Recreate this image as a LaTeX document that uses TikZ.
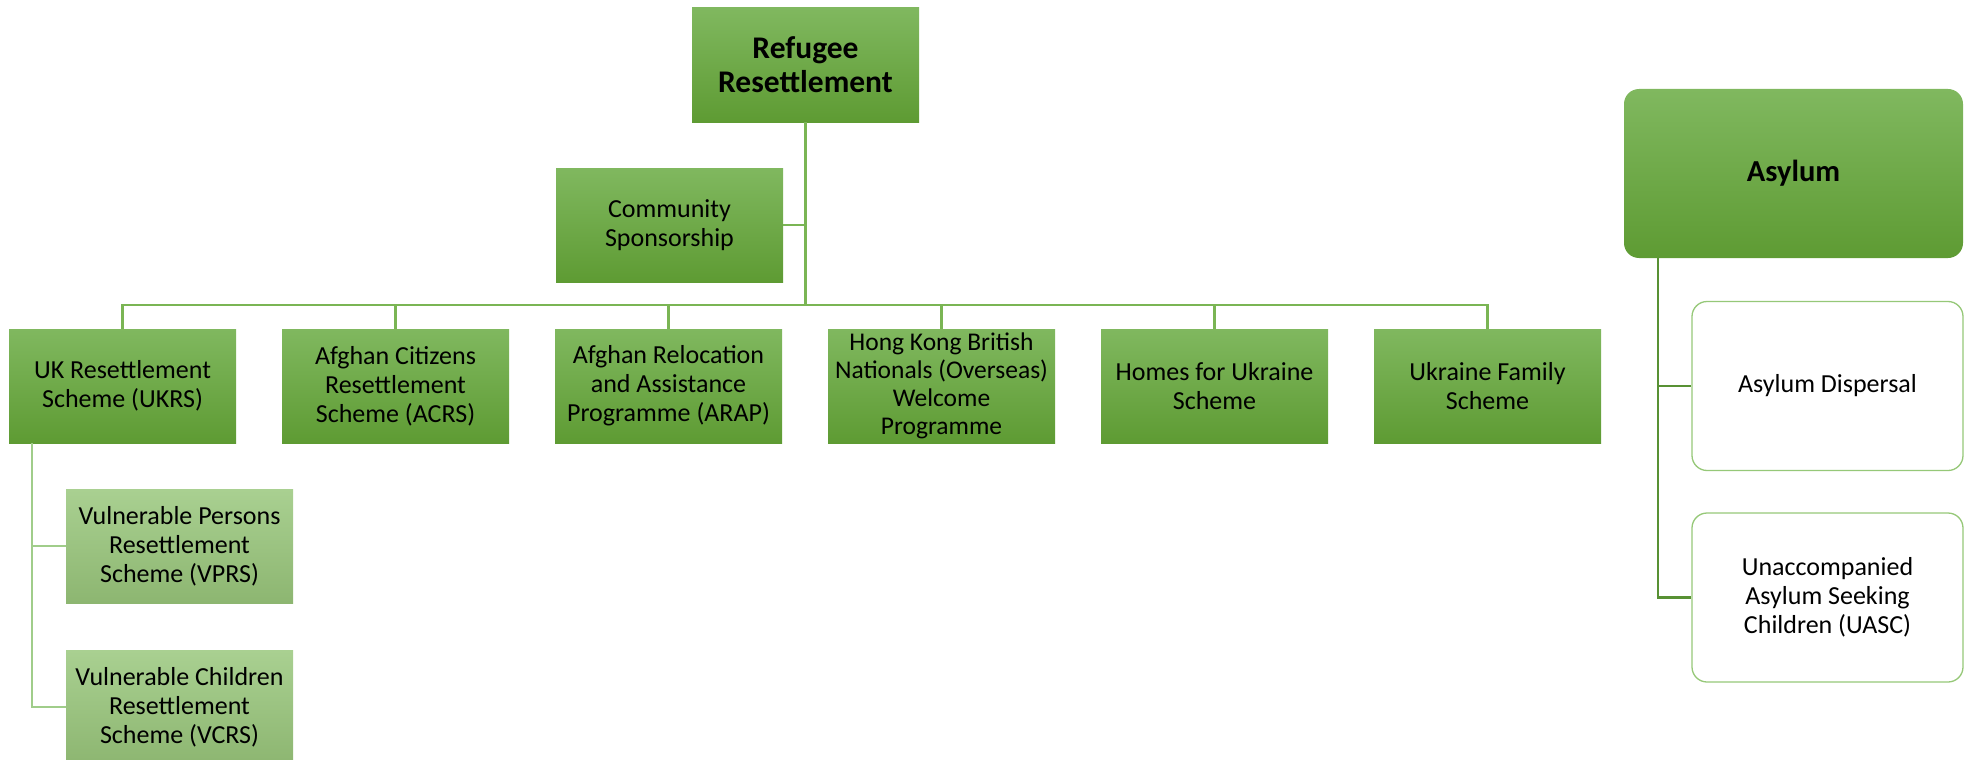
\documentclass[tikz,border=0pt]{standalone}
\usepackage{fontspec}
\setmainfont{Carlito}
\definecolor{gtop}{RGB}{128,184,95}
\definecolor{gbot}{RGB}{94,155,51}
\definecolor{ltop}{RGB}{169,208,145}
\definecolor{lbot}{RGB}{141,182,113}
\definecolor{busc}{RGB}{122,181,84}
\definecolor{darkc}{RGB}{88,145,52}
\definecolor{lightc}{RGB}{160,205,138}
\definecolor{bordc}{RGB}{150,200,120}
\tikzset{
  gbox/.style={rectangle, minimum width=227pt, minimum height=114pt, inner sep=0pt,
    top color=gtop, bottom color=gbot, draw=none, align=center,
    font=\fontsize{26}{29}\selectfont},
  lbox/.style={gbox, top color=ltop, bottom color=lbot},
  titlebox/.style={gbox, font=\fontsize{31.5}{34}\selectfont\bfseries},
  abox/.style={rectangle, rounded corners=15pt, minimum width=339pt, minimum height=169pt,
    inner sep=0pt, top color=gtop, bottom color=gbot, draw=none, align=center,
    font=\fontsize{30.5}{34}\selectfont\bfseries},
  wbox/.style={rectangle, rounded corners=15pt, minimum width=271pt, minimum height=169pt,
    inner sep=0pt, fill=white, draw=bordc, line width=1.3pt, align=center,
    font=\fontsize{26}{29}\selectfont},
  busline/.style={draw=busc, line width=2.6pt},
  subline/.style={draw=lightc, line width=2.6pt},
  asyline/.style={draw=darkc, line width=2.6pt},
}
\begin{document}
\begin{tikzpicture}[x=1pt,y=-1pt]
\useasboundingbox (0,0) rectangle (1971,760);
\coordinate (bj) at (805.5,305);
\coordinate (st) at (32,443);
\coordinate (at) at (1658,258);

\node[titlebox] (ref) at (805.5,65) {Refugee\\Resettlement};
\node[gbox] (com) at (669.5,225) {Community\\Sponsorship};

\node[gbox] (ukrs) at (122.5,386) {UK Resettlement\\Scheme (UKRS)};
\node[gbox] (acrs) at (395.5,386) {Afghan Citizens\\Resettlement\\Scheme (ACRS)};
\node[gbox] (arap) at (668.5,386) {Afghan Relocation\\and Assistance\\Programme (ARAP)};
\node[gbox, font=\fontsize{25.5}{28}\selectfont] (hk) at (941.5,386) {Hong Kong British\\Nationals (Overseas)\\Welcome\\Programme};
\node[gbox] (hfu) at (1214.5,386) {Homes for Ukraine\\Scheme};
\node[gbox] (ufs) at (1487.5,386) {Ukraine Family\\Scheme};

\node[lbox] (vprs) at (179.5,546) {Vulnerable Persons\\Resettlement\\Scheme (VPRS)};
\node[lbox] (vcrs) at (179.5,707) {Vulnerable Children\\Resettlement\\Scheme (VCRS)};

\node[abox] (asy) at (1793.5,173.5) {Asylum};
\node[wbox] (disp) at (1827.5,386) {Asylum Dispersal};
\node[wbox] (uasc) at (1827.5,597.5) {Unaccompanied\\Asylum Seeking\\Children (UASC)};

\draw[busline] (ref.south) -- (bj);
\draw[busline] (com.east) -- (com.east -| bj);
\draw[busline] (bj) -| (ukrs.north);
\draw[busline] (bj) -| (acrs.north);
\draw[busline] (bj) -| (arap.north);
\draw[busline] (bj) -| (hk.north);
\draw[busline] (bj) -| (hfu.north);
\draw[busline] (bj) -| (ufs.north);

\draw[subline] (st) |- (vprs.west);
\draw[subline] (st) |- (vcrs.west);

\draw[asyline] (at) |- (disp.west);
\draw[asyline] (at) |- (uasc.west);
\end{tikzpicture}
\end{document}
